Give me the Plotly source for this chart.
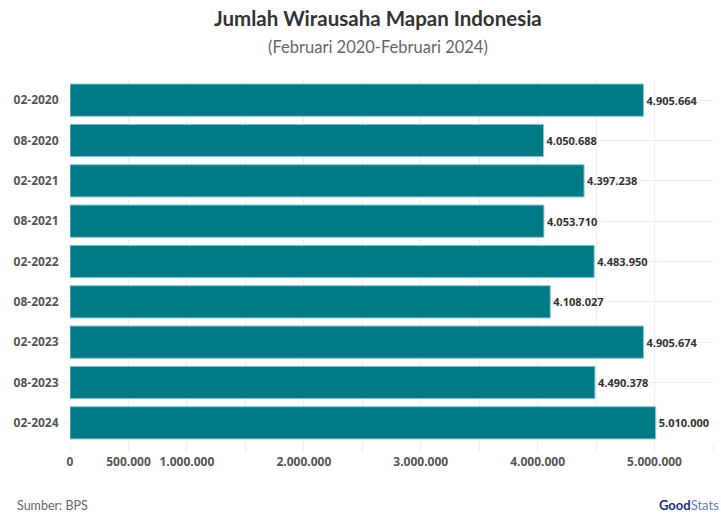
import plotly.graph_objects as go

categories = ["02-2020", "08-2020", "02-2021", "08-2021", "02-2022",
              "08-2022", "02-2023", "08-2023", "02-2024"]
values = [4905664, 4050688, 4397238, 4053710, 4483950,
          4108027, 4905674, 4490378, 5010000]
tick_vals = [0, 500000, 1000000, 1500000, 2000000, 2500000, 3000000,
             3500000, 4000000, 4500000, 5000000, 5500000]
tick_shown = [0, 500000, 1000000, 2000000, 3000000, 4000000, 5000000]


def fmt(v):
    return f"{v:,}".replace(",", ".")


tick_text = [fmt(v) if v in tick_shown else "" for v in tick_vals]
labels = [fmt(v) for v in values]

fig = go.Figure(go.Bar(
    y=categories, x=values, orientation="h",
    marker=dict(color="#007A87", line=dict(color="#8cc9d0", width=1)),
    text=labels, textposition="outside", cliponaxis=False,
    textfont=dict(family="Open Sans", size=11, color="#333333", weight="bold"),
))

fig.update_layout(
    width=721, height=513,
    margin=dict(l=70, r=8, t=80, b=70, autoexpand=False),
    paper_bgcolor="white", plot_bgcolor="white",
    bargap=0.2,
    showlegend=False,
    font=dict(family="Open Sans", color="#555555"),
    xaxis=dict(range=[0, 5500000], tickvals=tick_vals, ticktext=tick_text,
               showgrid=True, gridcolor="#eeeeee", zeroline=False,
               tickfont=dict(size=12, color="#555555", weight="bold"),
               ticks="outside", ticklen=8, tickcolor="#eeeeee",
               showline=False, automargin=False),
    yaxis=dict(autorange="reversed", showgrid=True, gridcolor="#eeeeee",
               tickfont=dict(size=12, color="#555555", weight="bold"),
               ticks="outside", ticklen=6, tickcolor="#eeeeee",
               ticklabelstandoff=2, showline=False, automargin=False),
)

fig.add_annotation(text="<b>Jumlah Wirausaha Mapan Indonesia</b>",
                   xref="paper", yref="paper", x=0.479, y=1.0, yshift=62,
                   xanchor="center", yanchor="middle", showarrow=False,
                   font=dict(family="Lato", size=20.5, color="#333333"))
fig.add_annotation(text="(Februari 2020-Februari 2024)",
                   xref="paper", yref="paper", x=0.479, y=1.0, yshift=33,
                   xanchor="center", yanchor="middle", showarrow=False,
                   font=dict(family="Lato", size=16.5, color="#666666"))
fig.add_annotation(text="Sumber: BPS", xref="paper", yref="paper",
                   x=0, y=0, xshift=-55, yshift=-62,
                   xanchor="left", yanchor="middle", showarrow=False,
                   font=dict(family="Lato", size=12.5, color="#666666"))
fig.add_annotation(text="<b>Good</b><span style='color:#6a7fc0'>Stats</span>",
                   xref="paper", yref="paper", x=1, y=0, xshift=8, yshift=-62,
                   xanchor="right", yanchor="middle", showarrow=False,
                   font=dict(family="Lato", size=13, color="#1f2f7a"))

fig.write_html("out.html", config={"displayModeBar": False},
               post_script="document.body.style.margin='0';document.body.style.overflow='hidden';")
